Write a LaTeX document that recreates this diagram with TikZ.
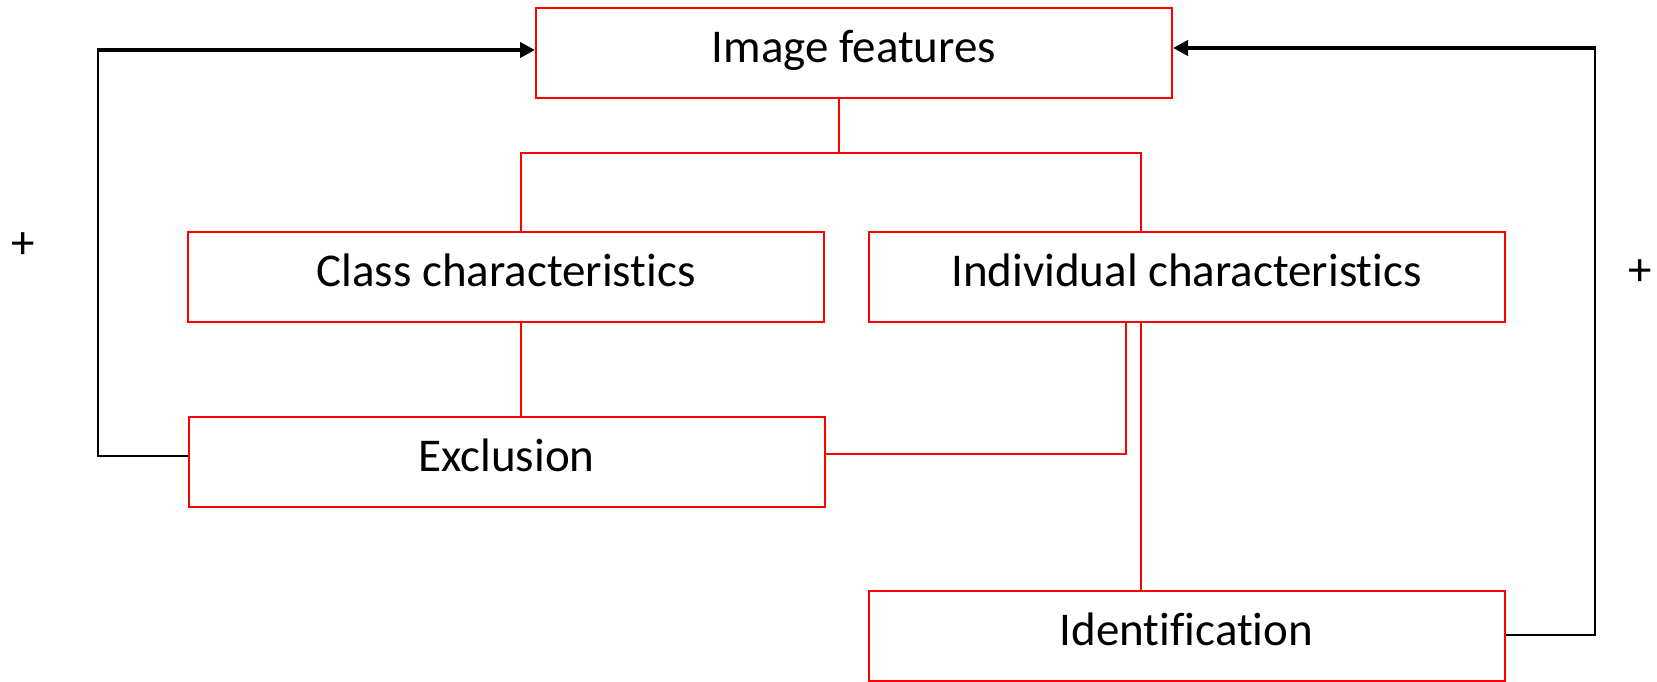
\documentclass[tikz,border=0pt]{standalone}
\usepackage{fontspec}
\setmainfont{Carlito}[Ligatures=NoCommon]
\usetikzlibrary{arrows.meta}
\tikzset{
  box/.style={draw=red, line width=2pt, minimum width=636pt, minimum height=90pt, inner sep=0pt, text height=33pt, text depth=14pt, font=\fontsize{47}{56}\selectfont},
  rl/.style={draw=red, line width=2.2pt},
  bl/.style={draw=black, line width=2.2pt},
  blt/.style={draw=black, line width=4pt, -{Triangle[length=15pt,width=15pt]}},
  plus/.style={font=\fontsize{47}{56}\selectfont, inner sep=0pt}
}
\begin{document}
\begin{tikzpicture}[x=1pt,y=-1pt]
\useasboundingbox (0,0) rectangle (1657,682);
\node[box] (img) at (854,53) {Image features};
\node[box] (cls) at (506,277) {Class characteristics};
\node[box] (ind) at (1186.5,277) {Individual characteristics};
\node[box] (exc) at (506.5,462) {Exclusion};
\node[box] (idn) at (1186.5,635.5) {Identification};
\node[plus] (p1) at (23,246) {+};
\node[plus] (p2) at (1640,273) {+};
\coordinate (j) at (839,153);
\coordinate (bl) at (521,153);
\coordinate (br) at (1141,153);
\coordinate (xc) at (1126,454);
\draw[rl] (img.south -| j) -- (j);
\draw[rl] (cls.north -| bl) -- (bl) -- (br) -- (ind.north -| br);
\draw[rl] (cls.south -| bl) -- (exc.north -| bl);
\draw[rl] (exc.east |- xc) -- (xc) -- (ind.south -| xc);
\draw[rl] (ind.south -| br) -- (idn.north -| br);
\coordinate (lb) at (98,456);
\coordinate (lt) at (98,50);
\draw[bl] (exc.west |- lb) -- (lb) -- (lt);
\draw[blt] ([xshift=-1pt]lt) -- (img.west |- lt);
\coordinate (rb) at (1595,635);
\coordinate (rt) at (1595,48);
\draw[bl] (idn.east |- rb) -- (rb) -- (rt);
\draw[blt] ([xshift=1pt]rt) -- (img.east |- rt);
\end{tikzpicture}
\end{document}
